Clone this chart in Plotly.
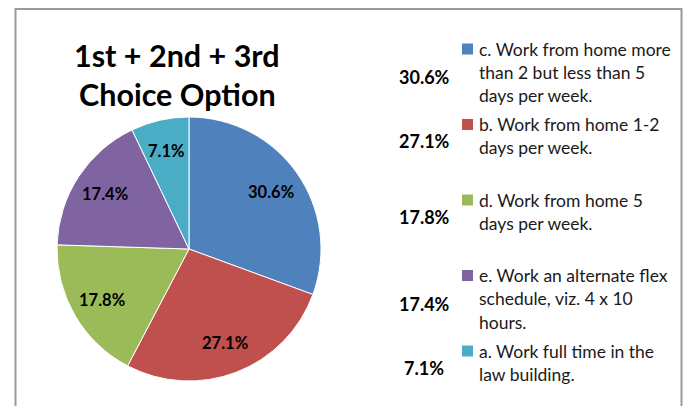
import math
import plotly.graph_objects as go

# ---- data ----
labels = [
    "c. Work from home more than 2 but less than 5 days per week.",
    "b. Work from home 1-2 days per week.",
    "d. Work from home 5 days per week.",
    "e. Work an alternate flex schedule, viz. 4 x 10 hours.",
    "a. Work full time in the law building.",
]
legend_lines = [
    ["c. Work from home more", "than 2 but less than 5", "days per week."],
    ["b. Work from home 1-2", "days per week."],
    ["d. Work from home 5", "days per week."],
    ["e. Work an alternate flex", "schedule, viz. 4 x 10", "hours."],
    ["a. Work full time in the", "law building."],
]
values = [30.6, 27.1, 17.8, 17.4, 7.1]
colors = ["#4F81BD", "#C0504D", "#9BBB59", "#8064A2", "#4BACC6"]
title_lines = ["1st + 2nd + 3rd", "Choice Option"]

# ---- layout constants (pixels) ----
W, H = 695, 406
FONT = "Lato"
cx, cy, r = 189, 249, 132
label_r = 0.76


def px(x):
    return x / W


def py(y):
    return 1 - y / H


fig = go.Figure()
fig.add_trace(go.Pie(
    labels=labels,
    values=values,
    sort=False,
    direction="clockwise",
    rotation=0,
    marker=dict(colors=colors, line=dict(color="white", width=1)),
    textinfo="none",
    hoverinfo="label+value",
    domain=dict(x=[px(cx - r), px(cx + r)], y=[py(cy + r), py(cy - r)]),
    showlegend=False,
))

annotations = []
shapes = []

# data labels on the slices, placed from the slice mid-angles
total = sum(values)
cum = 0.0
for v in values:
    mid = (cum + v / 2) / total * 2 * math.pi
    cum += v
    lx = cx + label_r * r * math.sin(mid)
    ly = cy - label_r * r * math.cos(mid)
    annotations.append(dict(text=f"{v:.1f}%", x=px(lx), y=py(ly), xref="paper", yref="paper",
                            showarrow=False, xanchor="center", yanchor="middle",
                            font=dict(family=FONT, size=16.5, color="black", weight="bold")))

# frame
shapes.append(dict(type="rect", xref="paper", yref="paper",
                   x0=px(15.5), x1=px(681.5), y0=py(430), y1=py(9),
                   line=dict(color="#9A9A9A", width=2), fillcolor="rgba(0,0,0,0)"))

# title
for i, t in enumerate(title_lines):
    annotations.append(dict(text=t, x=px(177), y=py(55 + i * 38.5), xref="paper", yref="paper",
                            showarrow=False, xanchor="center", yanchor="middle",
                            font=dict(family=FONT, size=30.5, color="black", weight="bold")))

# custom legend
entry_top0, entry_step, line_step = 49, 75.5, 23.4
for k, (lines, v, c) in enumerate(zip(legend_lines, values, colors)):
    top = entry_top0 + k * entry_step
    shapes.append(dict(type="rect", xref="paper", yref="paper",
                       x0=px(462), x1=px(473), y0=py(top + 5.5), y1=py(top - 5.5),
                       line=dict(width=0), fillcolor=c))
    for j, ln in enumerate(lines):
        annotations.append(dict(text=ln, x=px(477), y=py(top + j * line_step), xref="paper", yref="paper",
                                showarrow=False, xanchor="left", yanchor="middle",
                                font=dict(family=FONT, size=17.5, color="#1a1a1a")))
    mid = top + (len(lines) - 1) * line_step / 2 + 5
    annotations.append(dict(text=f"{v:.1f}%", x=px(424), y=py(mid), xref="paper", yref="paper",
                            showarrow=False, xanchor="center", yanchor="middle",
                            font=dict(family=FONT, size=18, color="black", weight="bold")))

fig.update_layout(
    width=W, height=H,
    margin=dict(l=0, r=0, t=0, b=0),
    paper_bgcolor="white", plot_bgcolor="white",
    shapes=shapes, annotations=annotations,
)
fig.write_html("out.html", config={"displayModeBar": False},
               post_script="document.body.style.margin='0';")
